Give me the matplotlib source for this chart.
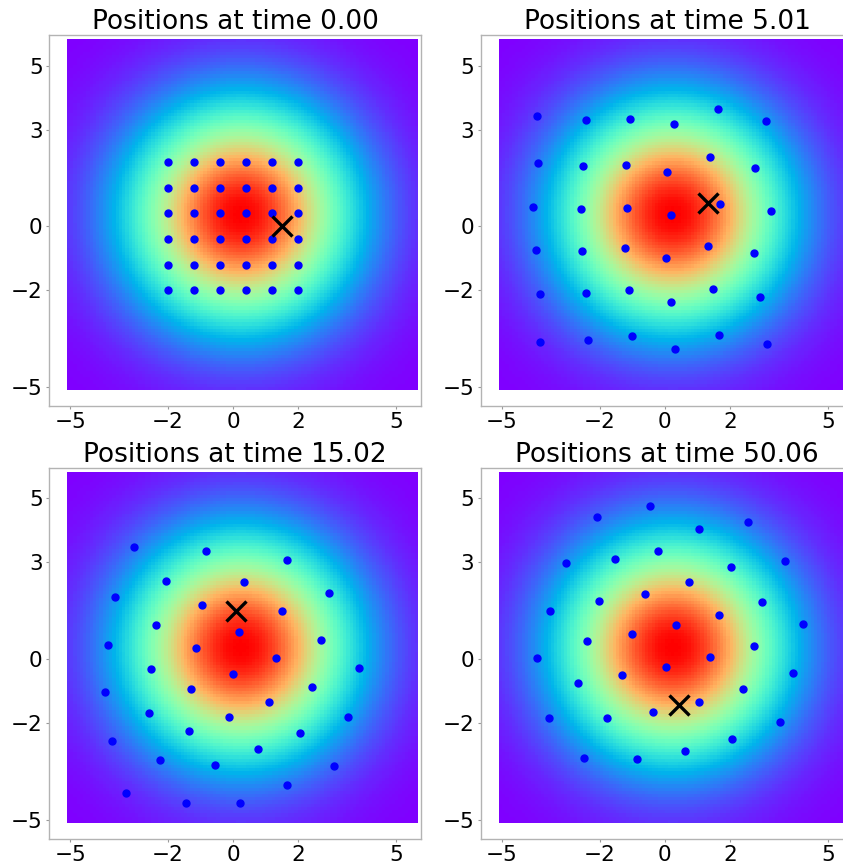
import numpy as np
import matplotlib
matplotlib.use('Agg')
import matplotlib.pyplot as plt

# 时间标签
times = ['0.00', '5.01', '15.02', '50.06']

# t = 0 : 初始网格位置
grid_vals = [-2.0, -1.2, -0.4, 0.4, 1.2, 2.0]
gx, gy = np.meshgrid(grid_vals, grid_vals)
x0 = gx.ravel()
y0 = gy.ravel()

# t = 5.01
x1 = [-3.91, -2.42, -1.07, 0.27, 1.62, 3.10,
      -3.90, -2.51, -1.20, 0.08, 1.37, 2.77,
      -4.04, -2.56, -1.17, 0.18, 1.69, 3.27,
      -3.94, -2.53, -1.23, 0.04, 1.32, 2.72,
      -3.83, -2.41, -1.10, 0.20, 1.48, 2.93,
      -3.84, -2.36, -1.01, 0.31, 1.65, 3.14]
y1 = [3.44, 3.30, 3.32, 3.18, 3.64, 3.26,
      1.96, 1.87, 1.90, 1.69, 2.14, 1.81,
      0.60, 0.54, 0.58, 0.35, 0.70, 0.47,
      -0.75, -0.77, -0.68, -1.00, -0.61, -0.82,
      -2.12, -2.09, -2.00, -2.36, -1.95, -2.19,
      -3.60, -3.53, -3.41, -3.81, -3.39, -3.66]

# t = 15.02
x2 = [-3.05, -0.84, 1.64, -2.07, 0.32, 2.94, -3.61, -0.95, 1.49,
      -2.36, 0.19, 2.68, -3.84, -1.15, 1.32, 3.85, -2.53, 0.00,
      -3.93, -1.29, 1.10, 2.41, -2.57, -0.12, 3.53, -1.34, 2.04,
      -3.73, 0.75, -2.23, -0.56, 3.08, 1.65, -3.28, -1.46, 0.22]
y2 = [3.48, 3.37, 3.07, 2.42, 2.39, 2.06, 1.92, 1.68, 1.48,
      1.04, 0.85, 0.58, 0.44, 0.34, 0.04, -0.27, -0.31, -0.48,
      -1.03, -0.94, -1.33, -0.86, -1.68, -1.81, -1.82, -2.23, -2.30,
      -2.57, -2.82, -3.16, -3.31, -3.34, -3.92, -4.16, -4.49, -4.50]

# t = 50.06
x3 = [-0.46, -2.09, 2.56, 1.06, -0.20, -1.52, -3.03, 3.69, 2.02,
      0.75, -0.60, -2.01, 2.97, -3.51, 1.66, 4.24, 0.35, -1.00,
      -2.38, 2.74, -3.92, 1.37, 0.02, 3.92, -1.32, -2.68, 2.40,
      1.04, -0.37, -3.56, -1.79, 3.52, 2.07, 0.61, -2.48, -0.87]
y3 = [4.77, 4.42, 4.26, 4.03, 3.37, 3.11, 2.97, 3.06, 2.85,
      2.39, 2.03, 1.81, 1.76, 1.49, 1.37, 1.08, 1.05, 0.78,
      0.55, 0.41, 0.04, 0.06, -0.26, -0.45, -0.50, -0.75, -0.95,
      -1.35, -1.65, -1.84, -1.84, -1.98, -2.50, -2.88, -3.10, -3.12]

# 标记粒子（叉号）位置
mark_x = [1.50, 1.31, 0.09, 0.43]
mark_y = [0.00, 0.72, 1.50, -1.44]

pos_x = [x0, x1, x2, x3]
pos_y = [y0, y1, y2, y3]

# 背景势场（高斯）参数
center = (0.2, 0.3)
sigma = 2.35
extent = [-5.1, 5.65, -5.1, 5.8]

xx = np.arange(extent[0], extent[1], 0.1)
yy = np.arange(extent[2], extent[3], 0.1)
XX, YY = np.meshgrid(xx, yy)
field = np.exp(-((XX - center[0])**2 + (YY - center[1])**2) / (2 * sigma**2))

fig = plt.figure(figsize=(8.43, 8.64), dpi=100)

W, H = 843.0, 864.0
lefts = [49.3, 481.0]
tops = [35.3, 468.0]
aw, ah = 372.0, 370.5

for i in range(4):
    r, c = divmod(i, 2)
    ax = fig.add_axes([lefts[c] / W, (H - tops[r] - ah) / H, aw / W, ah / H])
    ax.imshow(field, cmap='rainbow', extent=extent, origin='lower',
              interpolation='nearest', aspect='auto')
    ax.plot(pos_x[i], pos_y[i], 'o', color='blue', ms=5, ls='none')
    ax.plot(mark_x[i], mark_y[i], 'x', color='black', ms=15, mew=2.4)
    ax.set_xlim(-5.64, 5.77)
    ax.set_ylim(-5.59, 5.94)
    ax.set_xticks([-5, -2, 0, 2, 5])
    ax.set_yticks([-5, -2, 0, 3, 5])
    ax.tick_params(labelsize=15.5, length=2.2, width=0.8, color='0.6', pad=2.6)
    for sp in ax.spines.values():
        sp.set_color('0.7')
        sp.set_linewidth(1.0)
    ax.set_title('Positions at time ' + times[i], fontsize=19, pad=3.5)

fig.savefig('out.png', dpi=100)
